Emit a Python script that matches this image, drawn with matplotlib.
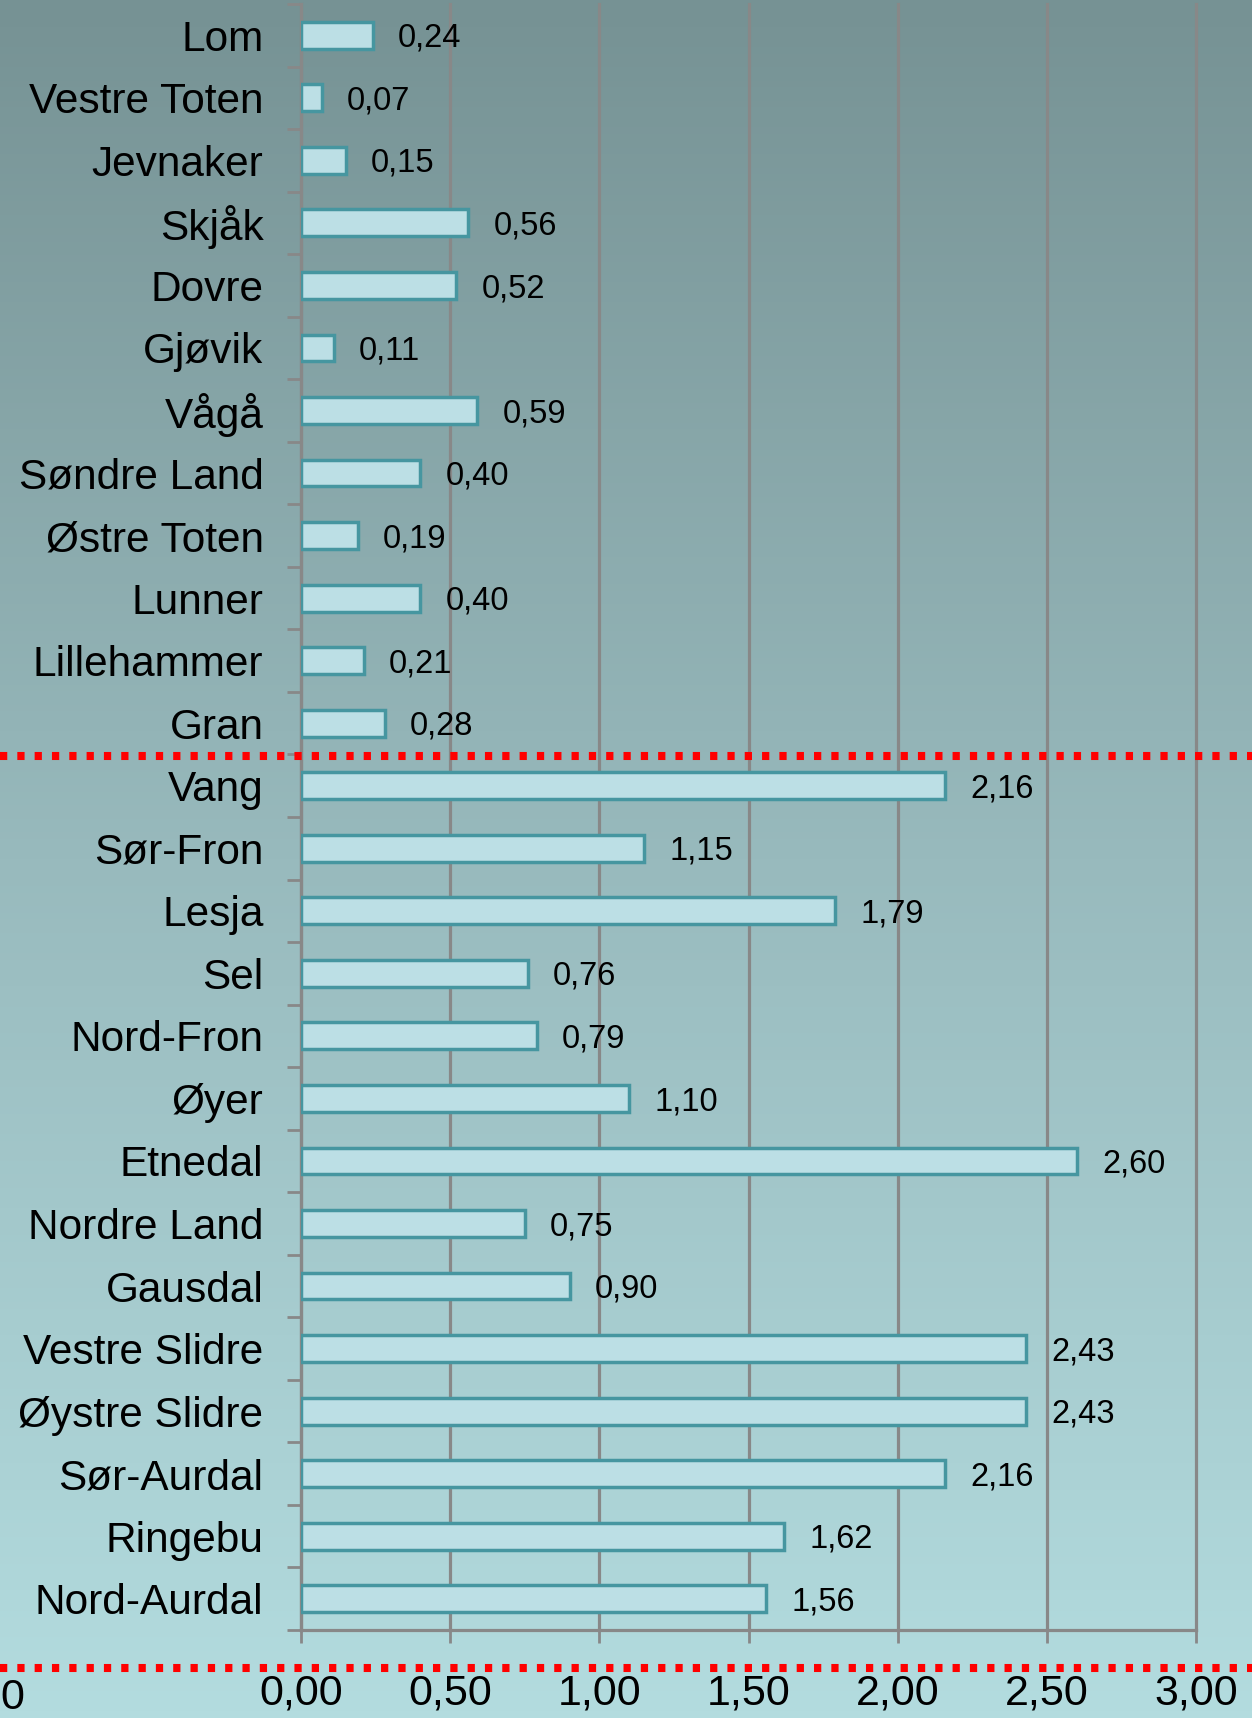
import numpy as np
import matplotlib
matplotlib.use("Agg")
import matplotlib.pyplot as plt
from matplotlib.colors import LinearSegmentedColormap

plt.rcParams['font.family'] = ['Liberation Sans', 'DejaVu Sans']

# data, top to bottom as in the chart
kommuner = ["Lom", "Vestre Toten", "Jevnaker", "Skjåk", "Dovre", "Gjøvik", "Vågå",
            "Søndre Land", "Østre Toten", "Lunner", "Lillehammer", "Gran",
            "Vang", "Sør-Fron", "Lesja", "Sel", "Nord-Fron", "Øyer", "Etnedal",
            "Nordre Land", "Gausdal", "Vestre Slidre", "Øystre Slidre", "Sør-Aurdal",
            "Ringebu", "Nord-Aurdal"]
verdier = [0.24, 0.07, 0.15, 0.56, 0.52, 0.11, 0.59, 0.40, 0.19, 0.40, 0.21, 0.28,
           2.16, 1.15, 1.79, 0.76, 0.79, 1.10, 2.60, 0.75, 0.90, 2.43, 2.43, 2.16,
           1.62, 1.56]
x_ticks = [0.0, 0.5, 1.0, 1.5, 2.0, 2.5, 3.0]
split_after = 12  # red line between Gran and Vang

W, H = 1252, 1718
fig = plt.figure(figsize=(W / 100, H / 100), dpi=100)

# background gradient
bg = fig.add_axes([0, 0, 1, 1], zorder=-10)
cmap = LinearSegmentedColormap.from_list("bg", ["#769294", "#98babd", "#b3dcdf"])
bg.imshow(np.linspace(0, 1, 256).reshape(-1, 1), aspect="auto", cmap=cmap,
          extent=[0, 1, 0, 1], origin="upper")
bg.axis("off")

ax = fig.add_axes([301 / W, 1 - 1630 / H, (1196 - 301) / W, (1630 - 4) / H])
ax.patch.set_alpha(0)

n = len(kommuner)
y = np.arange(n)
ax.barh(y, verdier, height=0.43, color="#bcdfe5", edgecolor="#4696a0",
        linewidth=2.5, zorder=3)
for yi, v in zip(y, verdier):
    ax.text(v + 0.085, yi + 0.05, f"{v:.2f}".replace(".", ","), va="center", ha="left",
            fontsize=23.5, color="black", zorder=4)

ax.set_ylim(n - 0.5, -0.5)
ax.set_xlim(0, 3.0)
ax.set_xticks(x_ticks)
ax.set_xticklabels([f"{t:.2f}".replace(".", ",") for t in x_ticks], fontsize=31)
ax.set_yticks(y)
ax.set_yticklabels(kommuner, fontsize=30.5)
ax.set_yticks(np.arange(-0.5, n, 1), minor=True)
ax.tick_params(axis="y", which="major", length=0, pad=27)
ax.tick_params(axis="y", which="minor", length=10, width=2, color="#888888")
ax.tick_params(axis="x", length=9, width=2, color="#888888", pad=22)

ax.grid(axis="x", color="#888888", linewidth=2.3, zorder=1)
ax.set_axisbelow(True)
for gl in ax.get_xgridlines():
    gl.set_clip_on(False)
for s in ["top", "right"]:
    ax.spines[s].set_visible(False)
for s in ["left", "bottom"]:
    ax.spines[s].set_color("#888888")
    ax.spines[s].set_linewidth(2.3)

# red dotted separators across the whole figure
y_split = 1 - (4 + split_after * (1626 / n)) / H
for yy in [y_split - 2 / H, 1 - 1668 / H]:
    fig.add_artist(plt.Line2D([0, 1], [yy, yy], transform=fig.transFigure,
                              color="#ff0000", linewidth=5.8,
                              dashes=(0.9, 1.25), solid_capstyle="butt",
                              dash_capstyle="butt", zorder=20))

fig.text(12 / W, 1 - 1698 / H, "0", fontsize=31, ha="center", va="center")

fig.savefig("out.png", dpi=100)
